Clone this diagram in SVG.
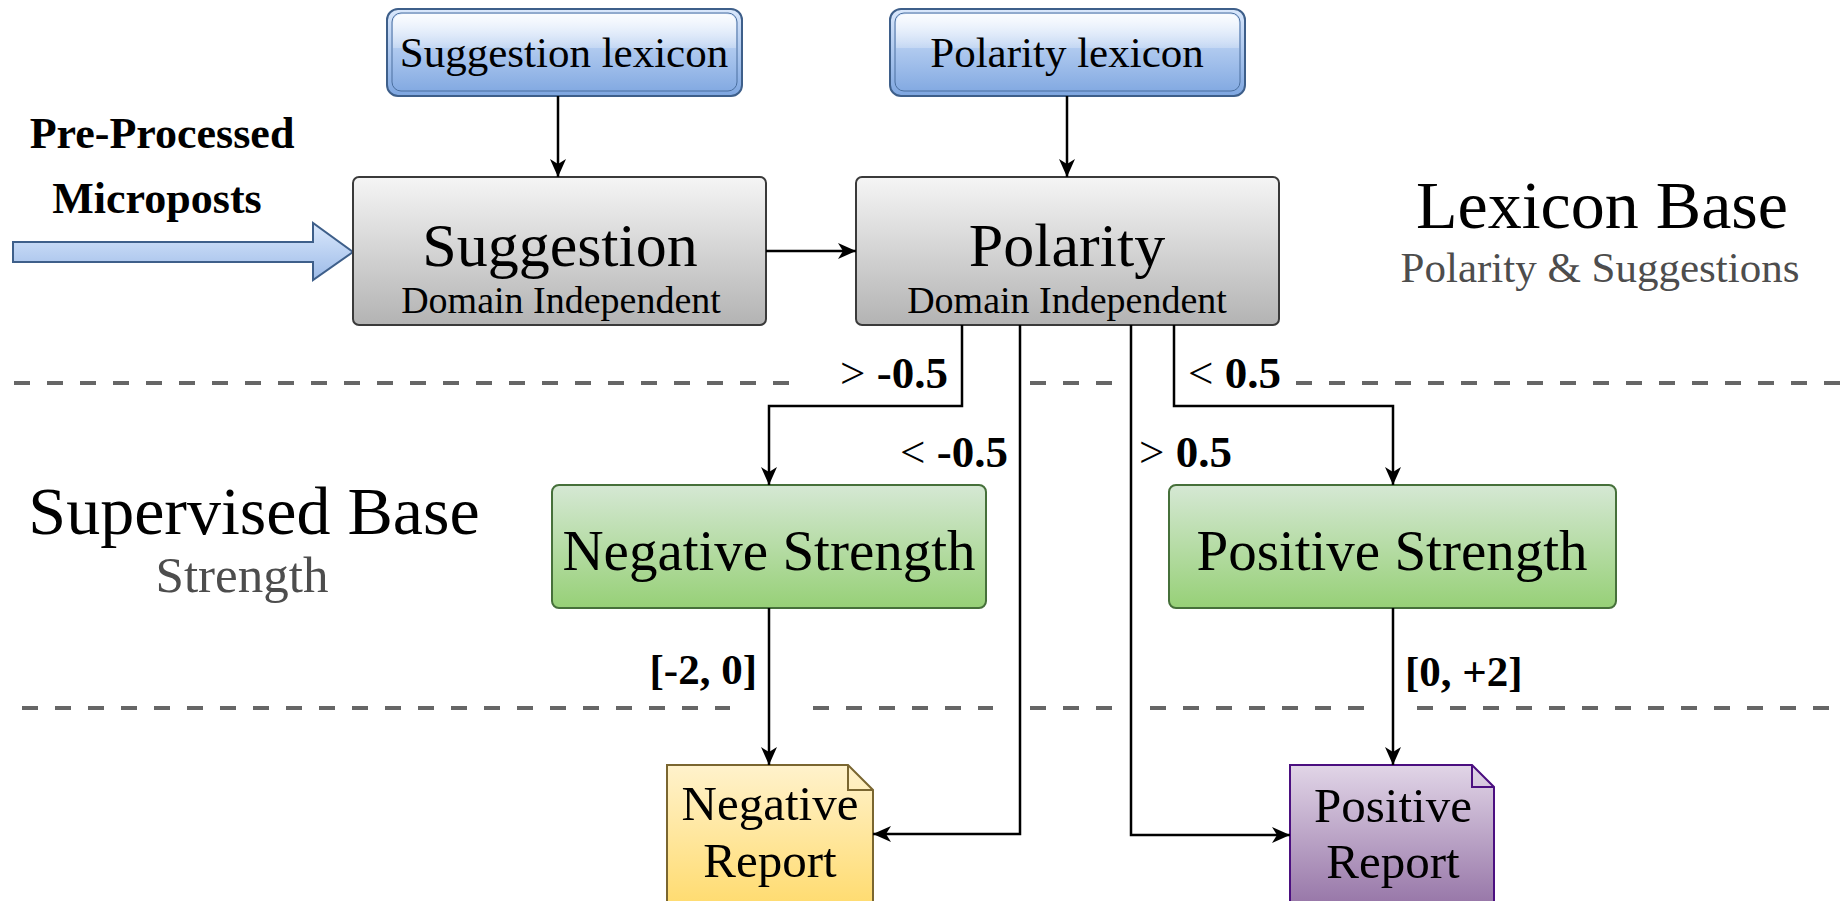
<svg xmlns="http://www.w3.org/2000/svg" width="1845" height="901" viewBox="0 0 1845 901">
<defs>
<style>
.t{font-family:"Liberation Serif","Times New Roman",serif;fill:#000}
.b{font-weight:bold}
.sub{fill:#4d4d4d}
.ln{fill:none;stroke:#000;stroke-width:2.5}
.dash{fill:none;stroke:#666;stroke-width:4;stroke-dasharray:16 17}
</style>
<linearGradient id="gBlue" x1="0" y1="0" x2="0" y2="1"><stop offset="0" stop-color="#dae8fc"/><stop offset="1" stop-color="#7ea6e0"/></linearGradient>
<linearGradient id="gGlass" x1="0" y1="0" x2="0" y2="1"><stop offset="0" stop-color="#fff" stop-opacity="0.9"/><stop offset="1" stop-color="#fff" stop-opacity="0.25"/></linearGradient>
<linearGradient id="gArrow" x1="0" y1="0" x2="0" y2="1"><stop offset="0" stop-color="#dae8fc"/><stop offset="1" stop-color="#9dbbe8"/></linearGradient>
<linearGradient id="gGray" x1="0" y1="0" x2="0" y2="1"><stop offset="0" stop-color="#f5f5f5"/><stop offset="1" stop-color="#b3b3b3"/></linearGradient>
<linearGradient id="gGreen" x1="0" y1="0" x2="0" y2="1"><stop offset="0" stop-color="#d5e8d4"/><stop offset="1" stop-color="#97d077"/></linearGradient>
<linearGradient id="gYellow" x1="0" y1="0" x2="0" y2="1"><stop offset="0" stop-color="#fff2cc"/><stop offset="1" stop-color="#ffd966"/></linearGradient>
<linearGradient id="gPurple" x1="0" y1="0" x2="0" y2="1"><stop offset="0" stop-color="#e1d5e7"/><stop offset="1" stop-color="#8f6ca1"/></linearGradient>
<marker id="arr" viewBox="0 0 18 16" refX="18" refY="8" markerWidth="18" markerHeight="16" markerUnits="userSpaceOnUse" orient="auto">
<path d="M0,0 L18,8 L0,16 L5,8 Z" fill="#000"/>
</marker>
</defs>
<rect width="1845" height="901" fill="#fff"/>

<g id="separators">
<line class="dash" x1="14" y1="383" x2="790" y2="383"/>
<line class="dash" x1="1030" y1="383" x2="1113" y2="383"/>
<line class="dash" x1="1296" y1="383" x2="1845" y2="383"/>
<line class="dash" x1="22" y1="708" x2="730" y2="708"/>
<line class="dash" x1="813" y1="708" x2="993" y2="708"/>
<line class="dash" x1="1030" y1="708" x2="1112" y2="708"/>
<line class="dash" x1="1150" y1="708" x2="1365" y2="708"/>
<line class="dash" x1="1417" y1="708" x2="1838" y2="708"/>
</g>

<g id="section-labels">
<text class="t" x="1602" y="228" font-size="68" text-anchor="middle">Lexicon Base</text>
<text class="t sub" x="1600" y="282" font-size="43" text-anchor="middle">Polarity &amp; Suggestions</text>
<text class="t" x="254" y="534" font-size="68" text-anchor="middle">Supervised Base</text>
<text class="t sub" x="242" y="592" font-size="51" text-anchor="middle">Strength</text>
</g>

<g id="input">
<polygon points="13,242 313,242 313,223 353,252 313,280 313,262 13,262" fill="url(#gArrow)" stroke="#3e5f8a" stroke-width="2" stroke-linejoin="miter"/>
<text class="t b" x="162" y="148" font-size="44" text-anchor="middle">Pre-Processed</text>
<text class="t b" x="157" y="213" font-size="44" text-anchor="middle">Microposts</text>
</g>

<g id="suggestion-lexicon">
<rect x="387" y="9" width="355" height="87" rx="11" fill="url(#gBlue)" stroke="#3e5f8a" stroke-width="2"/>
<rect x="392" y="13" width="345" height="78" rx="9" fill="none" stroke="#4a6f9f" stroke-width="1"/>
<path d="M393,48 V24 Q393,14 403,14 H726 Q736,14 736,24 V48 Z" fill="url(#gGlass)"/>
<text class="t" x="564" y="67" font-size="43" text-anchor="middle">Suggestion lexicon</text>
</g>

<g id="polarity-lexicon">
<rect x="890" y="9" width="355" height="87" rx="11" fill="url(#gBlue)" stroke="#3e5f8a" stroke-width="2"/>
<rect x="895" y="13" width="345" height="78" rx="9" fill="none" stroke="#4a6f9f" stroke-width="1"/>
<path d="M896,48 V24 Q896,14 906,14 H1229 Q1239,14 1239,24 V48 Z" fill="url(#gGlass)"/>
<text class="t" x="1067" y="67" font-size="43" text-anchor="middle">Polarity lexicon</text>
</g>

<g id="suggestion">
<rect x="353" y="177" width="413" height="148" rx="6" fill="url(#gGray)" stroke="#3a3a3a" stroke-width="2"/>
<text class="t" x="560" y="266" font-size="62" text-anchor="middle">Suggestion</text>
<text class="t" x="561" y="313" font-size="38" text-anchor="middle">Domain Independent</text>
</g>

<g id="polarity">
<rect x="856" y="177" width="423" height="148" rx="6" fill="url(#gGray)" stroke="#3a3a3a" stroke-width="2"/>
<text class="t" x="1067" y="266" font-size="62" text-anchor="middle">Polarity</text>
<text class="t" x="1067" y="313" font-size="38" text-anchor="middle">Domain Independent</text>
</g>

<g id="negative-strength">
<rect x="552" y="485" width="434" height="123" rx="7" fill="url(#gGreen)" stroke="#46703a" stroke-width="2"/>
<text class="t" x="769" y="570" font-size="57" text-anchor="middle">Negative Strength</text>
</g>

<g id="positive-strength">
<rect x="1169" y="485" width="447" height="123" rx="7" fill="url(#gGreen)" stroke="#46703a" stroke-width="2"/>
<text class="t" x="1392" y="570" font-size="57" text-anchor="middle">Positive Strength</text>
</g>

<g id="negative-report">
<path d="M667,765 H848 L873,790 V920 H667 Z" fill="url(#gYellow)" stroke="#7a6630" stroke-width="2"/>
<path d="M848,765 V790 H873" fill="none" stroke="#7a6630" stroke-width="2"/>
<text class="t" x="770" y="820" font-size="49" text-anchor="middle">Negative</text>
<text class="t" x="770" y="877" font-size="49" text-anchor="middle">Report</text>
</g>

<g id="positive-report">
<path d="M1290,765 H1472 L1494,787 V920 H1290 Z" fill="url(#gPurple)" stroke="#4b0f80" stroke-width="2"/>
<path d="M1472,765 V787 H1494" fill="none" stroke="#4b0f80" stroke-width="2"/>
<text class="t" x="1393" y="822" font-size="49" text-anchor="middle">Positive</text>
<text class="t" x="1393" y="878" font-size="49" text-anchor="middle">Report</text>
</g>

<g id="connectors">
<path class="ln" d="M558,96 V177" marker-end="url(#arr)"/>
<path class="ln" d="M1067,96 V177" marker-end="url(#arr)"/>
<path class="ln" d="M766,251 H856" marker-end="url(#arr)"/>
<path class="ln" d="M962,325 V406 H769 V485" marker-end="url(#arr)"/>
<path class="ln" d="M1174,325 V406 H1393 V485" marker-end="url(#arr)"/>
<path class="ln" d="M1020,325 V834 H873" marker-end="url(#arr)"/>
<path class="ln" d="M1131,325 V835 H1290" marker-end="url(#arr)"/>
<path class="ln" d="M769,608 V765" marker-end="url(#arr)"/>
<path class="ln" d="M1393,608 V765" marker-end="url(#arr)"/>
<text class="t" x="948" y="388" font-size="45" text-anchor="end">&gt; <tspan class="b">-0.5</tspan></text>
<text class="t" x="1188" y="388" font-size="45">&lt; <tspan class="b">0.5</tspan></text>
<text class="t" x="1008" y="467" font-size="45" text-anchor="end">&lt; <tspan class="b">-0.5</tspan></text>
<text class="t" x="1139" y="467" font-size="45">&gt; <tspan class="b">0.5</tspan></text>
<text class="t b" x="757" y="684" font-size="43" text-anchor="end">[-2, 0]</text>
<text class="t b" x="1405" y="686" font-size="43">[0, +2]</text>
</g>
</svg>
